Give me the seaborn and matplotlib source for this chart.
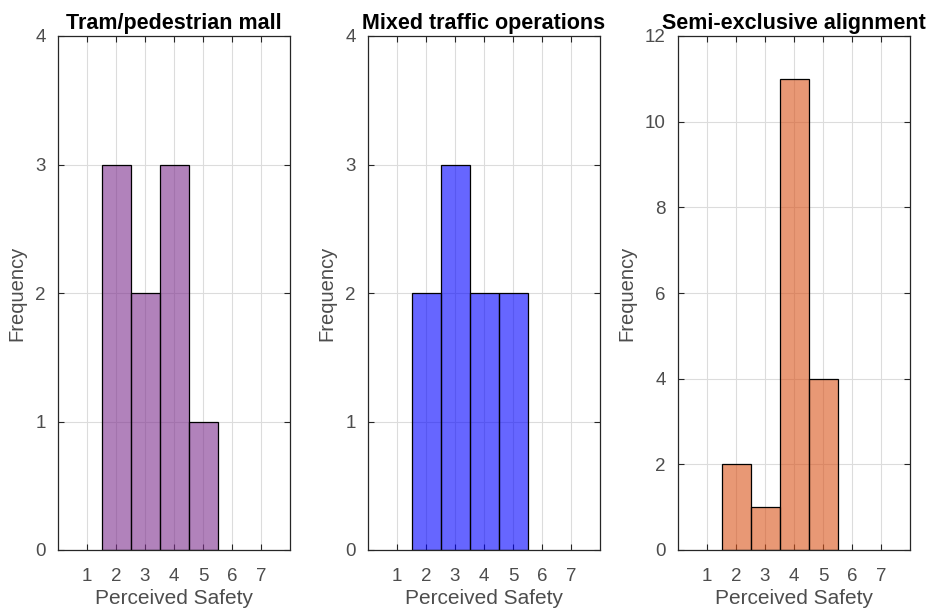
import matplotlib
matplotlib.use("Agg")
import matplotlib.pyplot as plt
import seaborn as sns
import pandas as pd

sns.set_theme(style="white")
plt.rcParams['font.family'] = ['Liberation Sans', 'DejaVu Sans']

titles = ["Tram/pedestrian mall", "Mixed traffic operations", "Semi-exclusive alignment"]
ratings = [2, 3, 4, 5]
counts_tram = [3, 2, 3, 1]
counts_mixed = [2, 3, 2, 2]
counts_semi = [2, 1, 11, 4]
colors = ["#7e2f8e", "#0000ff", "#d95319"]
x_ticks = [1, 2, 3, 4, 5, 6, 7]
y_ticks = [[0, 1, 2, 3, 4], [0, 1, 2, 3, 4], [0, 2, 4, 6, 8, 10, 12]]

all_counts = [counts_tram, counts_mixed, counts_semi]

fig = plt.figure(figsize=(9.3, 6.14), dpi=100)
lefts = [58, 368, 678]
W, H = 930, 614
ax_w = 232
ax_top, ax_bot = 36, 550
text_col = "#262626"

for i in range(3):
    ax = fig.add_axes([lefts[i] / W, 1 - ax_bot / H, ax_w / W, (ax_bot - ax_top) / H])
    df = pd.DataFrame({"rating": ratings, "count": all_counts[i]})
    sns.histplot(data=df, x="rating", weights="count", discrete=True, ax=ax,
                 color=colors[i], alpha=0.6, edgecolor="black", linewidth=0.9)
    ax.set_xlim(0, 8)
    ax.set_ylim(y_ticks[i][0], y_ticks[i][-1])
    ax.set_xticks(x_ticks)
    ax.set_yticks(y_ticks[i])
    ax.grid(True, color="#dcdcdc", linewidth=0.8)
    ax.set_axisbelow(True)
    ax.tick_params(direction="in", length=4, top=True, right=True, bottom=True, left=True,
                   labelsize=13.5, colors=text_col, labelcolor="#4d4d4d", width=0.8)
    ax.tick_params(axis="x", pad=13)
    ax.tick_params(axis="y", pad=9)
    for s in ax.spines.values():
        s.set_visible(True)
        s.set_color(text_col)
        s.set_linewidth(0.9)
    ax.set_xlabel("Perceived Safety", fontsize=15, color="#4d4d4d", labelpad=3)
    ax.set_ylabel("Frequency", fontsize=14.5, color="#4d4d4d", labelpad=6)
    ax.set_title(titles[i], fontsize=15.5, fontweight="bold", color="black", pad=5)

fig.savefig("out.png", dpi=100, facecolor="white")
